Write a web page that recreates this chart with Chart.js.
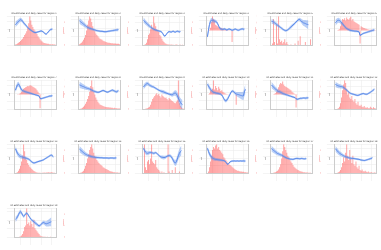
<!DOCTYPE html>
<html>
<head>
<meta charset="utf-8">
<script src="https://cdn.jsdelivr.net/npm/chart.js@4"></script>
<style>
  body { margin: 0; background: #fff; width: 381px; height: 250px; position: relative; overflow: hidden; }
  .cell { position: absolute; width: 62px; height: 42px; }
</style>
</head>
<body>
<div id="grid"></div>
<script>
const dates = ['2020-03-02','2020-03-09','2020-03-16','2020-03-23','2020-03-30','2020-04-06','2020-04-13','2020-04-20','2020-04-27','2020-05-04',
  '2020-05-11','2020-05-18','2020-05-25','2020-06-01','2020-06-08','2020-06-15','2020-06-22','2020-06-29','2020-07-06','2020-07-13',
  '2020-07-20','2020-07-27','2020-08-03','2020-08-10','2020-08-17','2020-08-24','2020-08-31','2020-09-07','2020-09-14','2020-09-21',
  '2020-09-28','2020-10-05','2020-10-12','2020-10-19','2020-10-26','2020-11-02','2020-11-09','2020-11-16','2020-11-23','2020-11-30'];

const regions = ['Region 1','Region 2','Region 3','Region 4','Region 5','Region 6','Region 7','Region 8','Region 9','Region 10',
  'Region 11','Region 12','Region 13','Region 14','Region 15','Region 16','Region 17','Region 18','Region 19'];

// uncertainty half-widths of the Rt band
const bandA = [0.18,0.17,0.16,0.15,0.14,0.13,0.12,0.11,0.10,0.10,0.09,0.09,0.08,0.08,0.08,0.07,0.07,0.07,0.06,0.06,
  0.06,0.06,0.06,0.06,0.06,0.06,0.06,0.06,0.06,0.06,0.06,0.06,0.06,0.07,0.07,0.07,0.08,0.08,0.09,0.10];
const bandB = [0.16,0.15,0.14,0.13,0.12,0.11,0.10,0.09,0.09,0.08,0.08,0.08,0.07,0.07,0.07,0.07,0.08,0.09,0.10,0.11,
  0.11,0.10,0.09,0.08,0.08,0.08,0.09,0.10,0.12,0.14,0.16,0.18,0.20,0.22,0.24,0.26,0.28,0.30,0.30,0.30];

const rt1 = [1.30,1.38,1.45,1.52,1.58,1.62,1.60,1.52,1.42,1.35,1.28,1.20,1.12,1.05,1.00,0.95,0.90,0.86,0.82,0.80,0.80,0.82,0.84,0.86,0.88,0.90,0.88,0.84,0.78,0.72,0.70,0.76,0.84,0.92,0.98,1.00,1.02,null,null,null];
const cases1 = [2,3,5,8,10,14,18,22,28,35,40,48,60,75,100,85,70,62,55,50,42,38,30,26,20,16,12,9,7,6,5,4,4,3,3,2,3,2,2,1];
const rt2 = [1.45,1.40,1.35,1.30,1.25,1.20,1.15,1.10,1.06,1.03,1.00,0.98,0.96,0.94,0.92,0.90,0.88,0.86,0.85,0.84,0.83,0.82,0.82,0.81,0.80,0.80,0.80,0.81,0.82,0.83,0.84,0.85,0.86,0.87,0.88,0.89,0.90,0.91,0.92,null];
const cases2 = [3,5,8,12,18,25,35,50,70,85,100,92,80,65,55,48,40,35,30,26,22,20,18,15,13,12,10,9,8,8,7,6,6,5,5,5,4,4,4,3];
const rt3 = [1.65,1.60,1.52,1.45,1.38,1.32,1.26,1.20,1.15,1.10,1.06,1.03,1.00,0.98,0.96,0.94,0.92,0.90,0.85,0.75,0.62,0.60,0.68,0.78,0.86,0.90,0.88,0.86,0.90,0.92,0.88,0.86,0.90,0.92,0.90,0.88,0.90,null,null,null];
const cases3 = [0,1,3,8,20,35,40,55,70,60,100,75,65,55,50,45,35,30,22,15,10,6,4,3,2,2,1,2,1,1,0,1,2,1,0,1,1,0,1,0];
const rt4 = [0.50,0.90,1.25,1.45,1.52,1.50,1.48,1.46,1.44,1.40,1.30,1.15,1.02,0.98,0.96,0.95,0.97,0.98,0.94,0.92,0.95,0.98,0.96,0.93,0.90,0.92,0.95,0.97,0.95,0.92,0.90,0.92,0.95,0.97,0.98,0.96,0.97,null,null,null];
const cases4 = [0,2,5,20,60,100,80,70,40,35,30,25,22,20,18,15,10,8,5,4,3,2,2,1,-80,1,2,1,0,1,1,0,1,0,1,0,0,1,0,0];
const rt5 = [1.50,1.48,1.45,1.40,1.35,1.30,1.25,1.20,1.15,1.10,1.05,1.00,0.96,0.92,0.90,0.92,0.96,1.02,1.08,1.14,1.20,1.26,1.32,1.38,1.45,1.52,1.58,1.62,1.58,1.52,1.45,1.40,1.38,1.35,1.32,1.30,1.28,null,null,null];
const cases5 = [0,5,90,10,0,70,5,100,20,10,15,5,10,20,5,10,3,0,0,2,0,0,0,5,0,0,15,0,30,0,0,0,0,10,0,0,0,0,20,0];
const rt6 = [1.35,1.42,1.48,1.50,1.48,1.42,1.35,1.28,1.20,1.12,1.06,1.00,0.96,0.93,0.90,0.88,0.87,0.86,0.85,0.84,0.84,0.83,0.82,0.80,0.58,0.62,0.66,0.70,0.72,0.74,0.76,0.78,0.80,0.82,0.84,0.86,0.88,0.90,0.91,null];
const cases6 = [0,0,2,5,10,30,60,80,75,85,70,90,80,75,85,95,70,80,65,60,55,50,45,40,-90,30,25,20,18,15,12,10,8,6,5,5,4,4,3,3];
const rt7 = [1.20,1.40,1.55,1.60,1.50,1.35,1.22,1.18,1.15,1.12,1.10,1.08,1.06,1.04,1.02,1.00,0.98,0.96,0.94,0.92,0.90,0.88,0.86,0.84,0.68,0.66,0.68,0.70,0.72,0.74,0.76,0.78,0.80,0.82,0.83,0.84,0.85,null,null,null];
const cases7 = [0,1,2,3,5,10,20,30,40,45,50,55,60,58,62,65,60,55,50,45,40,30,20,10,-95,2,1,2,1,1,0,1,1,0,1,0,1,0,0,0];
const rt8 = [1.40,1.38,1.35,1.32,1.30,1.27,1.24,1.22,1.20,1.18,1.16,1.13,1.10,1.07,1.04,1.02,1.00,0.98,0.97,0.98,1.00,1.03,1.06,1.08,1.06,1.03,1.00,0.98,0.99,1.02,1.05,1.08,1.10,1.08,1.05,1.02,1.00,1.03,1.06,null];
const cases8 = [0,1,2,4,8,12,18,25,35,45,60,80,100,75,60,50,40,32,25,20,16,14,12,10,9,8,7,6,6,5,5,4,4,3,4,3,3,2,2,2];
const rt9 = [1.40,1.48,1.55,1.60,1.62,1.58,1.52,1.48,1.45,1.42,1.40,1.36,1.32,1.28,1.24,1.20,1.17,1.14,1.12,1.10,1.08,1.05,1.02,1.00,0.97,0.95,0.93,0.91,0.90,0.95,1.00,1.02,0.98,0.85,0.70,0.55,0.42,0.32,0.28,null];
const cases9 = [0,0,1,2,3,5,8,15,25,35,40,45,50,55,48,52,45,40,50,45,42,38,40,35,30,38,35,30,28,25,22,20,25,30,100,20,10,5,2,1];
const rt10 = [1.50,1.40,1.30,1.20,1.12,1.06,1.02,1.00,0.98,0.96,0.95,0.94,0.92,0.90,0.85,0.75,0.62,0.52,0.50,0.55,0.65,0.78,0.90,1.02,1.10,1.08,1.02,0.96,0.92,0.90,0.88,0.86,0.84,0.82,0.80,0.80,1.05,1.20,null,null];
const cases10 = [0,2,10,30,25,40,100,35,60,45,30,55,40,25,30,20,15,10,5,3,2,1,1,0,0,1,0,0,-70,0,1,0,0,0,0,0,0,0,0,0];
const rt11 = [1.40,1.34,1.28,1.22,1.16,1.10,1.05,1.02,1.00,0.97,0.94,0.91,0.88,0.86,0.84,0.82,0.80,0.78,0.76,0.74,0.72,0.70,0.68,0.66,0.60,0.56,0.58,0.60,0.62,0.62,0.63,0.64,0.64,0.63,0.64,0.65,0.65,null,null,null];
const cases11 = [0,1,2,5,10,20,35,50,70,80,75,90,70,60,55,50,45,40,35,30,20,15,8,4,-90,2,1,1,0,1,0,1,0,0,1,0,0,0,0,0];
const rt12 = [1.62,1.58,1.55,1.52,1.50,1.48,1.47,1.45,1.42,1.36,1.30,1.24,1.18,1.12,1.06,1.02,1.00,0.98,0.96,0.94,0.92,0.90,0.90,0.92,0.95,0.98,1.00,1.02,1.00,0.98,0.97,0.98,1.02,1.06,1.10,1.15,1.20,1.25,1.30,null];
const cases12 = [0,0,1,3,8,20,40,65,85,100,90,70,50,60,40,35,45,30,25,35,20,15,25,12,10,15,8,6,10,5,4,6,3,3,8,4,2,6,3,2];
const rt13 = [1.50,1.35,1.22,1.12,1.06,1.02,1.00,0.98,0.96,0.94,0.92,0.90,0.88,0.85,0.80,0.74,0.68,0.64,0.62,0.63,0.65,0.68,0.70,0.72,0.74,0.76,0.78,0.80,0.84,0.88,0.92,0.96,1.00,1.04,1.08,1.10,1.06,1.00,null,null];
const cases13 = [0,1,3,8,15,25,40,60,100,75,55,45,35,28,22,18,14,10,7,5,3,2,1,1,1,0,1,1,2,1,2,2,3,2,2,3,2,1,1,0];
const rt14 = [1.35,1.30,1.25,1.20,1.15,1.10,1.06,1.03,1.00,0.98,0.96,0.94,0.92,0.91,0.90,0.89,0.88,0.88,0.87,0.87,0.86,0.86,0.86,0.85,0.85,0.85,0.85,0.85,0.84,0.84,0.85,0.85,0.85,0.84,0.84,0.85,0.85,null,null,null];
const cases14 = [0,1,2,4,8,15,25,35,50,65,80,90,100,85,70,60,55,45,40,35,30,28,25,20,18,16,14,12,10,8,6,5,4,3,3,2,2,2,1,1];
const rt15 = [1.50,1.38,1.28,1.22,1.20,1.22,1.24,1.25,1.24,1.22,1.20,1.22,1.24,1.20,1.14,1.08,1.02,0.98,0.96,0.95,0.94,0.95,0.98,1.02,1.05,1.06,1.05,1.00,0.90,0.78,0.66,0.60,0.68,0.85,1.05,1.20,1.30,1.36,null,null];
const cases15 = [0,100,20,10,40,45,30,50,100,40,35,30,45,20,15,10,5,0,5,0,3,0,0,0,100,5,0,0,10,0,0,20,0,0,0,5,0,0,0,0];
const rt16 = [1.65,1.45,1.28,1.15,1.06,1.00,0.96,0.93,0.91,0.90,0.89,0.88,0.87,0.86,0.85,0.84,0.83,0.80,0.72,0.62,0.58,0.66,0.74,0.78,0.80,0.80,0.81,0.80,0.80,0.81,0.80,0.80,0.81,0.80,0.80,0.81,0.80,0.80,null,null];
const cases16 = [0,5,20,40,60,80,90,85,95,100,85,90,80,75,70,65,55,50,45,40,35,30,28,25,22,18,15,12,10,8,8,6,5,5,4,4,3,3,2,2];
const rt17 = [1.50,1.45,1.40,1.35,1.30,1.25,1.20,1.18,1.15,1.12,1.10,1.06,1.02,0.98,0.95,0.92,0.90,0.88,0.86,0.85,0.85,0.84,0.86,0.88,0.90,0.90,0.89,0.88,0.88,0.90,0.89,0.88,0.87,0.88,0.88,null,null,null,null,null];
const cases17 = [0,0,1,2,3,5,8,12,20,30,50,75,100,90,80,70,60,55,45,40,35,28,22,18,15,12,10,8,6,5,4,3,3,2,2,2,1,1,1,0];
const rt18 = [1.50,1.42,1.35,1.28,1.22,1.18,1.14,1.10,1.06,1.03,1.00,0.98,0.96,0.94,0.92,0.91,0.90,0.90,0.89,0.88,0.87,0.86,0.85,0.84,0.82,0.80,0.79,0.78,0.77,0.78,0.80,0.82,0.84,0.86,0.88,0.90,0.94,null,null,null];
const cases18 = [0,0,1,3,5,10,20,35,55,40,70,100,60,45,80,50,35,60,30,25,40,20,15,25,10,8,12,6,5,8,4,3,5,2,2,3,1,1,2,1];
const rt19 = [1.05,1.10,1.20,1.32,1.45,1.50,1.42,1.30,1.22,1.28,1.38,1.42,1.35,1.25,1.15,1.06,1.00,0.95,0.90,0.85,0.80,0.75,0.70,0.66,0.68,0.75,0.82,0.86,0.84,0.80,0.78,0.80,0.82,0.85,0.88,0.90,null,null,null,null];
const cases19 = [0,0,0,0,1,2,5,10,20,35,40,100,45,50,40,55,45,35,60,30,25,20,15,10,5,3,2,1,1,1,0,1,0,0,1,0,0,0,0,0];

const panels = [
  [rt1, bandA, cases1], [rt2, bandA, cases2], [rt3, bandA, cases3], [rt4, bandA, cases4], [rt5, bandB, cases5], [rt6, bandA, cases6],
  [rt7, bandA, cases7], [rt8, bandA, cases8], [rt9, bandB, cases9], [rt10, bandB, cases10], [rt11, bandA, cases11], [rt12, bandA, cases12],
  [rt13, bandA, cases13], [rt14, bandA, cases14], [rt15, bandB, cases15], [rt16, bandA, cases16], [rt17, bandA, cases17], [rt18, bandA, cases18],
  [rt19, bandB, cases19]
];

const blue = 'rgb(85,130,230)';
const blueFill = 'rgba(100,149,237,0.45)';
const red = 'rgba(255,70,70,0.55)';
const tickFont = { size: 3, family: 'DejaVu Sans' };

const grid = document.getElementById('grid');
panels.forEach(function (p, k) {
    const rt = p[0], band = p[1], cases = p[2];
    const upper = rt.map((v, i) => v === null ? null : v + band[i]);
    const lower = rt.map((v, i) => v === null ? null : v - band[i]);
    const top = Math.max(...upper.filter(v => v !== null)) + 0.1;

    const div = document.createElement('div');
    div.className = 'cell';
    div.style.left = (3 + 64 * (k % 6)) + 'px';
    div.style.top = (11 + 64 * Math.floor(k / 6)) + 'px';
    const cv = document.createElement('canvas');
    cv.width = 62; cv.height = 42;
    div.appendChild(cv);
    grid.appendChild(div);

    new Chart(cv.getContext('2d'), {
        data: {
            labels: dates,
            datasets: [{
                type: 'line', data: upper, yAxisID: 'y', borderWidth: 0, pointRadius: 0,
                fill: '+1', backgroundColor: blueFill, order: 0
            }, {
                type: 'line', data: lower, yAxisID: 'y', borderWidth: 0, pointRadius: 0,
                fill: false, order: 0
            }, {
                type: 'line', data: rt, yAxisID: 'y', borderColor: blue, borderWidth: 1, pointRadius: 0,
                fill: false, order: 0
            }, {
                type: 'bar', data: cases, yAxisID: 'y1', backgroundColor: red,
                barPercentage: 0.85, categoryPercentage: 1, order: 1
            }]
        },
        options: {
            responsive: false,
            animation: false,
            layout: { padding: 0 },
            plugins: {
                legend: { display: false },
                tooltip: { enabled: false },
                title: {
                    display: true,
                    text: 'Rt estimates and daily cases for ' + regions[k],
                    font: { size: 2.2, family: 'DejaVu Sans', weight: 'normal' },
                    color: '#333',
                    padding: { top: 1, bottom: 1.5 }
                }
            },
            scales: {
                x: {
                    grid: { color: '#e8e8e8', lineWidth: 0.5 },
                    border: { color: '#ccc' },
                    ticks: { font: tickFont, color: '#555', maxRotation: 45, minRotation: 45, autoSkip: true, maxTicksLimit: 10, padding: 0 },
                    afterFit: s => { s.height = 8; }
                },
                y: {
                    position: 'left', min: 0, max: top,
                    grid: { color: '#e8e8e8', lineWidth: 0.5 },
                    border: { color: '#ccc' },
                    ticks: { font: tickFont, color: '#555', stepSize: 0.5, padding: 0.5 },
                    title: { display: true, text: 'Rt', font: { size: 2.5 }, color: '#555', padding: 0 },
                    afterFit: s => { s.width = 7; }
                },
                y1: {
                    position: 'right',
                    grid: { display: false },
                    border: { color: '#ccc' },
                    ticks: { font: tickFont, color: 'rgba(240,80,80,0.85)', maxTicksLimit: 6, padding: 0.5 },
                    title: { display: true, text: 'cases', font: { size: 2.5 }, color: 'rgba(240,80,80,0.85)', padding: 0 },
                    afterFit: s => { s.width = 9; }
                }
            }
        }
    });
});
</script>
</body>
</html>
